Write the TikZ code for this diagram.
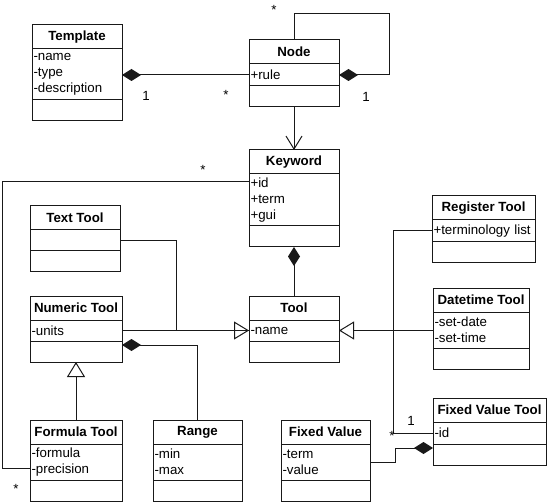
\documentclass[tikz,border=0pt]{standalone}
\usepackage{fontspec}
\setmainfont{Liberation Sans}
\usetikzlibrary{arrows.meta,positioning}
\definecolor{edge_dark}{RGB}{25,25,25}

% one class box: name, corner, width, title, attributes, height of attribute part
\newcommand{\umlclass}[6]{%
  \pgfmathsetmacro{\clswd}{#3-3}%
  \node[cls_title, minimum width=#3pt] (#1) at #2 {#4};
  \node[cls_attr, text width=\clswd pt, minimum height=#6pt, below=0pt of #1] (#1-a) {#5};
  \node[cls_ops, minimum width=#3pt, below=0pt of #1-a] (#1-o) {};
}

\begin{document}
\begin{tikzpicture}[x=1pt,y=-1pt,line width=1pt,font=\fontsize{13.3}{16}\selectfont]
    \tikzstyle{cls}=[draw=edge_dark, rectangle, outer sep=0pt, inner sep=0pt]
    \tikzstyle{cls_title}=[style=cls, anchor=north west, minimum height=24pt, font=\fontsize{13.3}{16}\selectfont\bfseries]
    \tikzstyle{cls_attr}=[style=cls, align=left, inner xsep=1.5pt]
    \tikzstyle{cls_ops}=[style=cls, minimum height=21pt]
    \tikzstyle{conn}=[draw=edge_dark, line join=miter]
    \tikzstyle{comp}=[style=conn, {Diamond[length=19pt,width=12pt]}-]
    \tikzstyle{inherit}=[style=conn, -{Triangle[open,length=15pt,width=18pt]}]
    \tikzstyle{assoc}=[style=conn, -{Straight Barb[length=13pt,width=16pt]}]
    \tikzstyle{mult}=[inner sep=0pt]

    \useasboundingbox (0,0) rectangle (548,502);

    \umlclass{tmpl}{(32,25)}{90}{Template}{-name\\-type\\-description}{51}
    \umlclass{nde}{(249,40)}{90}{Node}{+rule}{22}
    \umlclass{kwd}{(249,150)}{90}{Keyword}{+id\\+term\\+gui}{52}
    \umlclass{txt}{(30,206)}{90}{Text Tool}{}{21}
    \umlclass{num}{(30,296)}{92}{Numeric Tool}{-units}{21}
    \umlclass{tool}{(249,296)}{90}{Tool}{-name}{21}
    \umlclass{reg}{(432,196)}{103}{Register Tool}{+terminology list}{22}
    \umlclass{dtm}{(433,288)}{96}{Datetime Tool}{-set-date\\-set-time}{36}
    \umlclass{frm}{(30,420)}{92}{Formula Tool}{-formula\\-precision}{36}
    \umlclass{rng}{(153,420)}{89}{Range}{-min\\-max}{36}
    \umlclass{fval}{(281,420)}{89}{Fixed Value}{-term\\-value}{36}
    \umlclass{fvt}{(433,398)}{113}{Fixed Value Tool}{-id}{22}

    \coordinate (loop) at (389,14);

    \draw[comp] (tmpl-a.east |- nde-a.west) -- (nde-a.west);
    \draw[comp] (nde-a.east) -| (loop) -| (nde.north);
    \draw[assoc] (nde-o.south) -- (kwd.north);
    \draw[conn] ([yshift=-8pt]kwd-a.north west) -- ++(-247,0) |- ([yshift=-24pt]frm-a.north west);
    \draw[comp] (kwd-o.south) -- (tool.north);
    \draw[inherit] (num-a.east) -- (tool-a.west);
    \draw[conn] (txt-a.east) -- ++(56,0) |- (tool-a.west);
    \draw[inherit] (dtm-a.west |- tool-a.east) -- (tool-a.east);
    \draw[conn] (reg-a.west) -- ++(-39,0) |- (fvt-a.west);
    \draw[comp] ([yshift=-4pt]fvt-o.north west) -- ++(-38,0) |- (fval-a.east);
    \draw[comp] ([yshift=-4pt]num-o.north east) -| (rng.north);
    \draw[inherit] (frm.north) -- (num-o.south);

    \node[mult] (m_tmpl)  at (146,96)  {1};
    \node[mult] (m_nde)   at (226,95)  {*};
    \node[mult] (m_loop1) at (274,10)  {*};
    \node[mult] (m_loop2) at (366,97)  {1};
    \node[mult] (m_kwd)   at (203,170) {*};
    \node[mult] (m_frm)   at (16,489)  {*};
    \node[mult] (m_reg)   at (411,421) {1};
    \node[mult] (m_fvt)   at (392,436) {*};
\end{tikzpicture}
\end{document}
